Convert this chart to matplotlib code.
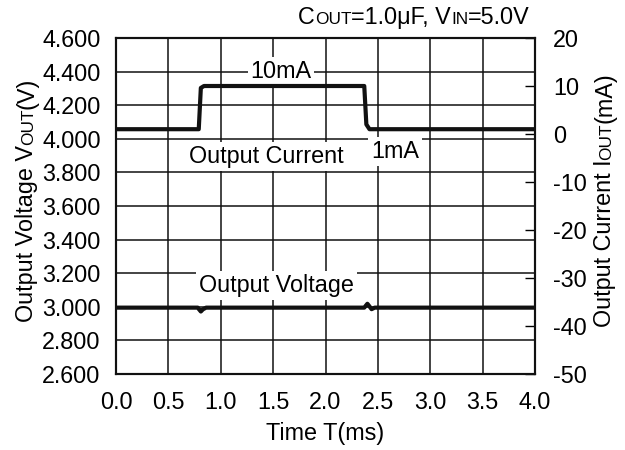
import matplotlib
matplotlib.use("Agg")
import matplotlib.pyplot as plt

plt.rcParams['font.family'] = ['Liberation Sans', 'DejaVu Sans']
plt.rcParams['axes.unicode_minus'] = False

# load step response: time in ms, output voltage in V, output current in mA
t_volt = [0.0, 0.78, 0.81, 0.83, 0.86, 2.37, 2.40, 2.42, 2.44, 2.47, 4.0]
v_out = [2.995, 2.995, 2.972, 2.985, 2.995, 2.995, 3.018, 3.002, 2.986, 2.995, 2.995]
t_curr = [0.0, 0.79, 0.81, 0.84, 2.37, 2.39, 2.42, 4.0]
i_out = [1.0, 1.0, 9.6, 10.0, 10.0, 2.0, 1.0, 1.0]

x_ticks = [0.0, 0.5, 1.0, 1.5, 2.0, 2.5, 3.0, 3.5, 4.0]
v_ticks = [2.6, 2.8, 3.0, 3.2, 3.4, 3.6, 3.8, 4.0, 4.2, 4.4, 4.6]
i_ticks = [-50, -40, -30, -20, -10, 0, 10, 20]

FS = 16.8
SMALL = 12.4
W, H = 625, 450

fig = plt.figure(figsize=(W / 100, H / 100), dpi=100)
fig.subplots_adjust(left=116 / W, right=535 / W, bottom=1 - 374 / H, top=1 - 38 / H)
ax = fig.add_subplot(111)
ax2 = ax.twinx()

ax.set_xlim(0, 4)
ax.set_ylim(2.6, 4.6)
ax.set_xticks(x_ticks)
ax.set_xticklabels([f"{v:.1f}" for v in x_ticks])
ax.set_yticks(v_ticks)
ax.set_yticklabels([f"{v:.3f}" for v in v_ticks])
ax.tick_params(axis='both', length=0, labelsize=FS)
ax.tick_params(axis='x', pad=12)
ax.tick_params(axis='y', pad=11)
ax.grid(True, color='#111', linewidth=1.1)
ax.set_axisbelow(True)

ax2.set_ylim(-50, 20)
ax2.set_yticks(i_ticks)
ax2.tick_params(axis='y', direction='in', length=7, width=1, labelsize=FS, pad=13)

for a in (ax, ax2):
    for sp in a.spines.values():
        sp.set_linewidth(1.5)
        sp.set_color('#111')

ax.plot(t_volt, v_out, color='#111', linewidth=3, solid_joinstyle='round', zorder=4)
ax2.plot(t_curr, i_out, color='#111', linewidth=3, solid_joinstyle='round', zorder=4)

box = dict(boxstyle='square,pad=0.12', fc='white', ec='none')
ax.text(1.575, 4.362, "10mA", fontsize=FS, ha='center', va='baseline', bbox=box, zorder=3)
ax.text(1.437, 3.856, "Output Current", fontsize=FS, ha='center', va='baseline', bbox=box, zorder=3)
ax.text(2.663, 3.886, "1mA", fontsize=FS, ha='center', va='baseline', bbox=box, zorder=3)
ax.text(1.532, 3.088, "Output Voltage", fontsize=FS, ha='center', va='baseline', bbox=box, zorder=3)

ax.set_xlabel("Time T(ms)", fontsize=FS, labelpad=6)

renderer = fig.canvas.get_renderer()


def piece_widths(pieces):
    widths = []
    for s, size in pieces:
        t = fig.text(0, 0, s, fontsize=size)
        widths.append(t.get_window_extent(renderer).width)
        t.remove()
    return widths


def rich_text(pieces, x_px, y_px, rotation=0, align='left'):
    # draws text made of runs with different sizes on one baseline (pixel coords, y from top)
    widths = piece_widths(pieces)
    total = sum(widths)
    if rotation == 0:
        x = x_px - total if align == 'right' else x_px
        for (s, size), w in zip(pieces, widths):
            fig.text(x / W, 1 - y_px / H, s, fontsize=size, ha='left', va='baseline')
            x += w
    else:
        y = (H - y_px) - total / 2
        for (s, size), w in zip(pieces, widths):
            fig.text(x_px / W, y / H, s, fontsize=size, ha='left', va='baseline',
                     rotation=90, rotation_mode='anchor')
            y += w


rich_text([("C", FS), ("OUT", SMALL), ("=1.0μF, V", FS), ("IN", SMALL), ("=5.0V", FS)],
          530, 24, align='right')
rich_text([("Output Voltage V", FS), ("OUT", SMALL), ("(V)", FS)], 33, 200, rotation=90)
rich_text([("Output Current I", FS), ("OUT", SMALL), ("(mA)", FS)], 611, 200, rotation=90)

fig.savefig("out.png", dpi=100)
